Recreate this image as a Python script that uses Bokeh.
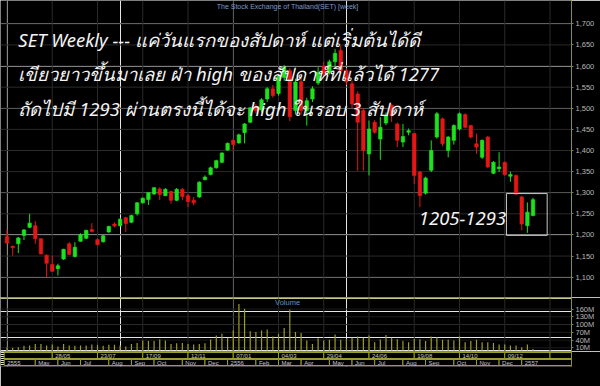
import pandas as pd
from bokeh.plotting import figure
from bokeh.layouts import column
from bokeh.models import (ColumnDataSource, LinearAxis, FixedTicker, NumeralTickFormatter,
                          PrintfTickFormatter, Label, Span, Range1d)
from bokeh.embed import file_html
from bokeh.resources import INLINE
from bokeh.core.properties import value

# ---- weekly SET index, Apr 2012 - Jan 2014 ----
first_week = "2012-04-02"

opens = [1196, 1173, 1179, 1199, 1218, 1222, 1191, 1152, 1130, 1120,
         1143, 1179, 1149, 1185, 1192, 1213, 1189, 1184, 1207, 1226,
         1222, 1241, 1230, 1250, 1276, 1284, 1297, 1309, 1293, 1303,
         1282, 1308, 1293, 1282, 1290, 1331, 1343, 1359, 1372, 1401,
         1424, 1418, 1442, 1467, 1504, 1496, 1522, 1546, 1535, 1573,
         1589, 1495, 1563, 1495, 1522, 1560, 1600, 1585, 1610, 1637,
         1589, 1558, 1534, 1495, 1392, 1467, 1427, 1465, 1507, 1463,
         1420, 1443, 1440, 1349, 1299, 1353, 1432, 1475, 1400, 1424,
         1451, 1485, 1459, 1416, 1384, 1432, 1346, 1357, 1372, 1339,
         1341, 1290, 1222, 1246]
highs = [1212, 1175, 1195, 1214, 1250, 1233, 1192, 1154, 1151, 1132,
         1167, 1183, 1183, 1204, 1212, 1228, 1191, 1200, 1222, 1230,
         1240, 1243, 1248, 1278, 1289, 1301, 1313, 1313, 1311, 1305,
         1311, 1311, 1297, 1290, 1327, 1341, 1362, 1378, 1396, 1419,
         1428, 1440, 1465, 1503, 1510, 1524, 1550, 1555, 1580, 1602,
         1595, 1570, 1575, 1525, 1552, 1597, 1610, 1615, 1640, 1649,
         1595, 1565, 1540, 1500, 1471, 1472, 1479, 1490, 1510, 1466,
         1463, 1452, 1442, 1352, 1338, 1424, 1491, 1478, 1434, 1462,
         1490, 1488, 1461, 1440, 1426, 1434, 1375, 1396, 1374, 1350,
         1343, 1293, 1277, 1288]
lows = [1179, 1151, 1157, 1188, 1216, 1179, 1154, 1100, 1112, 1104,
        1141, 1152, 1147, 1184, 1190, 1206, 1175, 1182, 1205, 1218,
        1220, 1207, 1228, 1246, 1274, 1271, 1295, 1283, 1292, 1274,
        1280, 1282, 1266, 1270, 1288, 1329, 1341, 1357, 1370, 1399,
        1400, 1416, 1417, 1465, 1488, 1490, 1515, 1525, 1530, 1565,
        1470, 1485, 1485, 1459, 1515, 1555, 1575, 1580, 1600, 1580,
        1555, 1500, 1352, 1352, 1341, 1440, 1378, 1460, 1467, 1408,
        1408, 1436, 1321, 1266, 1296, 1349, 1428, 1410, 1384, 1414,
        1448, 1452, 1428, 1392, 1380, 1358, 1344, 1349, 1340, 1326,
        1295, 1211, 1205, 1244]
closes = [1181, 1170, 1193, 1212, 1228, 1191, 1155, 1133, 1114, 1127,
          1166, 1154, 1171, 1201, 1211, 1208, 1177, 1198, 1220, 1221,
          1237, 1227, 1246, 1276, 1287, 1300, 1312, 1296, 1308, 1282,
          1308, 1291, 1279, 1276, 1325, 1337, 1359, 1376, 1394, 1417,
          1414, 1437, 1463, 1501, 1494, 1520, 1546, 1530, 1575, 1597,
          1480, 1562, 1495, 1518, 1546, 1585, 1582, 1610, 1630, 1589,
          1562, 1510, 1467, 1400, 1451, 1443, 1455, 1483, 1482, 1424,
          1433, 1447, 1341, 1293, 1335, 1400, 1487, 1416, 1432, 1459,
          1487, 1455, 1432, 1408, 1424, 1361, 1372, 1361, 1343, 1343,
          1297, 1226, 1254, 1283.56]
# weekly volume, millions of shares
volume_m = [12, 10, 12, 18, 19, 25, 25, 19, 23, 15,
            25, 19, 18, 19, 19, 23, 22, 18, 22, 22,
            19, 15, 25, 29, 38, 36, 36, 42, 38, 25,
            28, 29, 25, 23, 25, 28, 42, 58, 64, 49,
            77, 180, 161, 74, 71, 77, 81, 54, 64, 87,
            158, 71, 67, 38, 25, 47, 38, 41, 62, 41,
            42, 49, 54, 49, 58, 32, 42, 60, 49, 43,
            36, 32, 45, 43, 36, 54, 51, 41, 41, 38,
            54, 32, 36, 41, 32, 32, 29, 23, 23, 19,
            19, 12, 23, 5]

price_ticks = [1100, 1150, 1200, 1250, 1300, 1350, 1400, 1450,
               1500, 1550, 1600, 1650, 1700]
volume_ticks = [10, 40, 70, 100, 130, 160]

# calendar strip: month blocks (start week, label)
month_starts = ["2012-04-02", "2012-05-07", "2012-06-04", "2012-07-02", "2012-08-06",
                "2012-09-03", "2012-10-01", "2012-11-05", "2012-12-03", "2012-12-31",
                "2013-02-04", "2013-03-04", "2013-04-01", "2013-05-06", "2013-06-03",
                "2013-07-01", "2013-08-05", "2013-09-02", "2013-10-07", "2013-11-04",
                "2013-12-02", "2013-12-30"]
month_labels = ["2555", "May", "Jun", "Jul", "Aug", "Sep", "Oct", "Nov", "Dec", "2556",
                "Feb", "Mar", "Apr", "May", "Jun", "Jul", "Aug", "Sep", "Oct", "Nov",
                "Dec", "2557"]
date_step_weeks = 8

range_low, range_high = 1205, 1293
notes = ["SET Weekly --- แค่วันแรกของสัปดาห์ แต่เริ่มต้นได้ดี",
         "เขียวยาวขึ้นมาเลย ฝ่า high ของสัปดาห์ที่แล้วได้ 1277",
         "ถัดไปมี 1293 ผ่านตรงนี้ได้จะ high ในรอบ 3 สัปดาห์"]
title_text = "The Stock Exchange of Thailand(SET) [week]"

# ---- styling ----
BG = "#000000"
GRID = "#2a2a2a"
UP = "#1de21d"
DOWN = "#e51616"
VOLC = "#9c9c2c"
AXIS = "#8f8f2a"
TICKTXT = "#b8b8b8"
FONT = "Liberation Sans"
X_START, X_END = -1.15, 99.8
P_LO, P_HI = 1051.9, 1755.2
V_LO, V_HI = -4.3, 204.8
BODY_HALF = 0.31

n = len(closes)
x = list(range(n))
start = pd.Timestamp(first_week)


def week_index(d):
    return (pd.Timestamp(d) - start).days / 7.0


src = ColumnDataSource(dict(
    x=x, o=opens, h=highs, l=lows, c=closes,
    left=[i - BODY_HALF for i in x], right=[i + BODY_HALF for i in x],
    top=[max(o, c) for o, c in zip(opens, closes)],
    bottom=[min(o, c) for o, c in zip(opens, closes)],
    color=[UP if c >= o else DOWN for o, c in zip(opens, closes)],
    vol=volume_m, zero=[0] * n,
))

grid_weeks = list(range(0, 100, date_step_weeks))
x_range = Range1d(X_START, X_END)


def make_fig(height, y_range, bottom=0):
    return figure(width=600, height=height, x_range=x_range, y_range=y_range,
                  output_backend="svg", toolbar_location=None, tools="",
                  x_axis_location=None, y_axis_location=None,
                  min_border_left=0, min_border_right=29, min_border_top=0,
                  min_border_bottom=bottom, background_fill_color=BG,
                  border_fill_color=BG, outline_line_color=None)


def right_axis(fig, ticks, formatter=None):
    ax = LinearAxis(ticker=FixedTicker(ticks=ticks), axis_line_color=AXIS,
                    axis_line_width=1, major_tick_line_color="#777777",
                    major_tick_out=2, major_tick_in=0, minor_tick_line_color=None,
                    major_label_text_color=TICKTXT, major_label_text_font=FONT,
                    major_label_text_font_size="7.5px", major_label_standoff=2)
    if formatter is not None:
        ax.formatter = formatter
    fig.add_layout(ax, "right")


def grid_lines(fig, ylo, yhi, yticks, hcolor):
    # vertical lines every eight weeks, horizontal lines at the axis ticks
    fig.segment(x0=grid_weeks, x1=grid_weeks, y0=[ylo] * len(grid_weeks),
                y1=[yhi] * len(grid_weeks), line_color=GRID, line_width=1)
    fig.segment(x0=[X_START] * len(yticks), x1=[X_END] * len(yticks), y0=yticks,
                y1=yticks, line_color=hcolor, line_width=1)


def note(fig, xs, ys, texts, size, color, font, style="normal", align="left",
         baseline="alphabetic"):
    fig.text(x=xs, y=ys, text=texts, text_color=color, text_font=value(font),
             text_font_size=size, text_font_style=style, text_align=align,
             text_baseline=baseline)


# ---- price panel ----
p = make_fig(297, Range1d(P_LO, P_HI))
grid_lines(p, P_LO, P_HI, price_ticks, GRID)
right_axis(p, price_ticks, NumeralTickFormatter(format="0,0"))

p.segment(x0="x", y0="l", x1="x", y1="h", line_color="color", line_width=1, source=src)
p.quad(left="left", right="right", top="top", bottom="bottom", fill_color="color",
       line_color="color", line_width=0.6, source=src)

# highlight box around the last three weeks
p.quad(left=[n - 3 - 2.7], right=[n - 1 + 2.5], bottom=[range_low - 6], top=[range_high + 5],
       fill_color=None, line_color="#c9c9c9", line_width=1)

note(p, [49.6], [1740], [title_text], "7px", "#7c9acb", FONT, align="center",
     baseline="middle")
note(p, [2.0, 2.0, 2.0], [1662, 1582, 1499.5], notes, "18.5px", "#f4f4f4",
     "Noto Sans", style="italic")
note(p, [72.8], [1238.5], [f"{range_low}-{range_high}"], "18.5px", "#f4f4f4",
     "Noto Sans", style="italic")
last_close = closes[-1]
p.add_layout(Label(x=99.85, y=last_close, text=f"{last_close:,.2f}", text_color="#1c3a1c",
                   text_font=FONT, text_font_size="6.6px", text_baseline="middle",
                   background_fill_color="#b9efb6", padding=1))

# ---- volume panel ----
pv = make_fig(54, Range1d(V_LO, V_HI))
grid_lines(pv, V_LO, V_HI, volume_ticks, "#1c1c1c")
right_axis(pv, volume_ticks, PrintfTickFormatter(format="%dM"))
pv.segment(x0="x", y0="zero", x1="x", y1="vol", line_color=VOLC, line_width=1.2, source=src)
pv.add_layout(Span(location=203.3, dimension="width", line_color="#a9a935", line_width=1.3))
note(pv, [49.6], [186], ["Volume"], "7.5px", "#5d8fd6", FONT, align="center",
     baseline="middle")

# ---- calendar strip ----
pc = make_fig(35, Range1d(0, 15), bottom=20)
right_axis(pc, [])

step_left = [-0.5] + [float(w) for w in range(date_step_weeks, 100, date_step_weeks)]
step_right = step_left[1:] + [X_END]
step_text = [""] + [(start + pd.Timedelta(weeks=w)).strftime("%d/%m")
                    for w in range(date_step_weeks, 96, date_step_weeks)] + [""]
row1 = ColumnDataSource(dict(left=step_left, right=step_right,
                             text=step_text, ymid=[11] * len(step_left)))
m_left = [-0.5] + [week_index(d) for d in month_starts[1:]]
m_right = m_left[1:] + [X_END]
row2 = ColumnDataSource(dict(left=m_left, right=m_right, text=month_labels,
                             ymid=[4] * len(m_left)))
for s, (b, t) in ((row1, (8, 14)), (row2, (1, 7))):
    pc.quad(left="left", right="right", bottom=b, top=t, fill_color=BG,
            line_color="#9d9d2b", line_width=1, source=s)
    pc.text(x="left", y="ymid", text="text", x_offset=3, text_color="#c4c4c4",
            text_font=value(FONT), text_font_size="6px", text_baseline="middle", source=s)

pc.add_layout(Label(x=77.9, y=-12.5, text="[1389x849] http://upic.me/", text_color="#f0f0f0",
                    text_font="DejaVu Sans Mono", text_font_size="9.3px",
                    text_baseline="alphabetic"))

layout = column(p, pv, pc, spacing=0)
open("out.html", "w").write(file_html(layout, INLINE, title="SET weekly"))
